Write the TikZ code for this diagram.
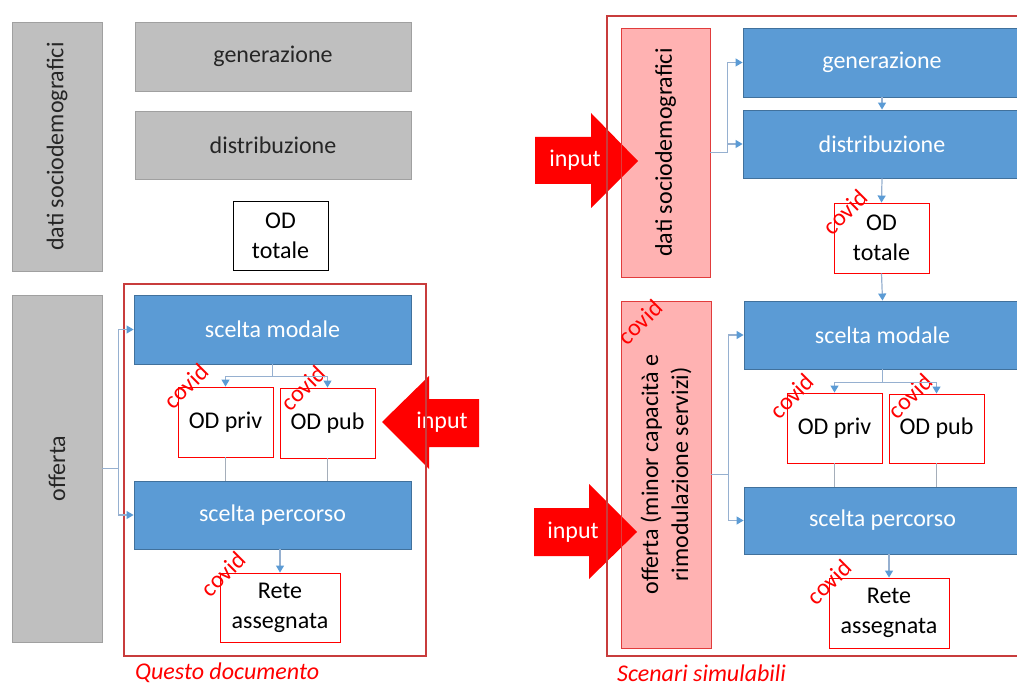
\documentclass[tikz,border=0pt]{standalone}
\usepackage{fontspec}
\setmainfont{Carlito}
\usetikzlibrary{arrows.meta}
\definecolor{grayfill}{RGB}{191,191,191}
\definecolor{grayline}{RGB}{160,160,160}
\definecolor{bluefill}{RGB}{91,155,213}
\definecolor{blueline}{RGB}{65,113,156}
\definecolor{connline}{RGB}{150,176,208}
\definecolor{plainline}{RGB}{165,174,186}
\definecolor{frameline}{RGB}{200,60,60}
\definecolor{pinkline}{RGB}{225,60,60}
\tikzstyle{box}=[inner sep=0pt, align=center, line width=0.9pt]
\tikzstyle{graybox}=[box, draw=grayline, fill=grayfill, text={black!85}]
\tikzstyle{bluebox}=[box, draw=blueline, fill=bluefill, text=white]
\tikzstyle{redbox}=[box, draw=red, fill=white, text=black]
\tikzstyle{pinkbox}=[box, draw=pinkline, fill=red, fill opacity=0.3, text opacity=1, text=black]
\tikzstyle{covid}=[inner sep=0pt, text=red, rotate=45]
\tikzstyle{conn}=[draw=connline, line width=1.2pt, -{Triangle[length=7pt,width=8pt,color=bluefill]}]
\tikzstyle{plain}=[draw=plainline, line width=1.2pt]
\tikzstyle{frame}=[draw=frameline, line width=1.1pt]
\tikzstyle{capt}=[inner sep=0pt, anchor=west, text=red, font=\fontsize{24}{30}\selectfont\itshape]

\begin{document}
\begin{tikzpicture}[x=1pt, y=-1pt, font=\fontsize{24}{30}\selectfont]
  \useasboundingbox (0,0) rectangle (1017,684);
  \clip (0,0) rectangle (1017,684);
  \fill[red] (479,399) -- (429,399) -- (429,376) -- (382,422) -- (429,469)
    -- (429,447) -- (479,447) -- cycle;
  \fill[red] (535,137) -- (591,137) -- (591,113) -- (638,161) -- (591,208)
    -- (591,184) -- (535,184) -- cycle;
  \fill[red] (534,508) -- (589,508) -- (589,484) -- (637,532) -- (589,579)
    -- (589,556) -- (534,556) -- cycle;
  \node[text=white, inner sep=0pt] (in1) at (442,422) {input};
  \node[text=white, inner sep=0pt] (in2) at (575,160) {input};
  \node[text=white, inner sep=0pt] (in3) at (573,532) {input};
  \draw[frame] (124,284) rectangle (426,656);
  \draw[frame] (607,16) rectangle (1030,656);

  \node[graybox, rotate=90, minimum width=249pt, minimum height=90pt] (lsd) at (57,146.5) {dati sociodemografici};
  \node[graybox, minimum width=276pt, minimum height=69pt] (lgen) at (273,56.5) {generazione};
  \node[graybox, minimum width=276pt, minimum height=68pt] (ldis) at (273,145) {distribuzione};
  \node[redbox, draw=black, minimum width=95pt, minimum height=69pt] (lod) at (280.5,235.5) {OD\\totale};
  \node[graybox, rotate=90, minimum width=347pt, minimum height=90pt] (loff) at (57,468.5) {offerta};
  \node[bluebox, minimum width=277pt, minimum height=69pt] (lsm) at (272.5,329.5) {scelta modale};
  \node[redbox, minimum width=95pt, minimum height=70pt] (lpriv) at (225.5,422) {OD priv};
  \node[redbox, minimum width=95pt, minimum height=70pt] (lpub) at (327.5,423) {OD pub};
  \node[bluebox, minimum width=277pt, minimum height=68pt] (lsp) at (272.5,515) {scelta percorso};
  \node[redbox, minimum width=120pt, minimum height=69pt] (lrete) at (280,607.5) {Rete\\assegnata};
  \node[covid] (lc1) at (186,386) {covid};
  \node[covid] (lc2) at (303,388) {covid};
  \node[covid] (lc3) at (223,574) {covid};
  \node[capt] (lcap) at (135,673) {Questo documento};

  \node[pinkbox, rotate=90, minimum width=249pt, minimum height=89pt] (rsd) at (665.5,152.5) {dati sociodemografici};
  \node[bluebox, minimum width=278pt, minimum height=69pt] (rgen) at (882,62.5) {generazione};
  \node[bluebox, minimum width=278pt, minimum height=68pt] (rdis) at (882,144) {distribuzione};
  \node[redbox, minimum width=95pt, minimum height=70pt] (rod) at (881.5,238) {OD\\totale};
  \node[pinkbox, rotate=90, minimum width=347pt, minimum height=90pt] (roff) at (666,474.5) {offerta (minor capacità e\\rimodulazione servizi)};
  \node[bluebox, minimum width=277pt, minimum height=68pt] (rsm) at (882.5,335) {scelta modale};
  \node[redbox, minimum width=95pt, minimum height=70pt] (rpriv) at (834.5,428) {OD priv};
  \node[redbox, minimum width=95pt, minimum height=69pt] (rpub) at (936.5,428.5) {OD pub};
  \node[bluebox, minimum width=277pt, minimum height=67pt] (rsp) at (882.5,520.5) {scelta percorso};
  \node[redbox, minimum width=120pt, minimum height=70pt] (rrete) at (889,613) {Rete\\assegnata};
  \node[covid] (rc1) at (845,212) {covid};
  \node[covid] (rc2) at (640,322) {covid};
  \node[covid] (rc3) at (791.5,396) {covid};
  \node[covid] (rc4) at (910,396) {covid};
  \node[covid] (rc5) at (829,582) {covid};
  \node[capt] (rcap) at (617,673) {Scenari simulabili};

  \draw[conn] (loff.south) -- ++(16,0) |- (lsm.west);
  \draw[conn] (loff.south) -- ++(16,0) |- (lsp.west);
  \draw[conn] (lsm.south) -- ++(0,12) -| (lpriv.north);
  \draw[conn] (lsm.south) -- ++(0,12) -| (lpub.north);
  \draw[plain] (lpriv.south) -- (lpriv.south |- lsp.north);
  \draw[plain] (lpub.south) -- (lpub.south |- lsp.north);
  \draw[conn] (lrete.north |- lsp.south) -- (lrete.north);

  \draw[conn] (rsd.south) -- ++(17,0) |- (rgen.west);
  \draw[conn] (rsd.south) -- ++(17,0) |- (rdis.west);
  \draw[conn] (rgen.south) -- (rdis.north);
  \draw[conn] (rdis.south) -- (rod.north);
  \draw[conn] (rod.south) -- (rsm.north);
  \draw[conn] (roff.south) -- ++(17,0) |- (rsm.west);
  \draw[conn] (roff.south) -- ++(17,0) |- (rsp.west);
  \draw[conn] (rsm.south) -- ++(0,13) -| (rpriv.north);
  \draw[conn] (rsm.south) -- ++(0,13) -| (rpub.north);
  \draw[plain] (rpriv.south) -- (rpriv.south |- rsp.north);
  \draw[plain] (rpub.south) -- (rpub.south |- rsp.north);
  \draw[conn] (rrete.north |- rsp.south) -- (rrete.north);
\end{tikzpicture}
\end{document}
